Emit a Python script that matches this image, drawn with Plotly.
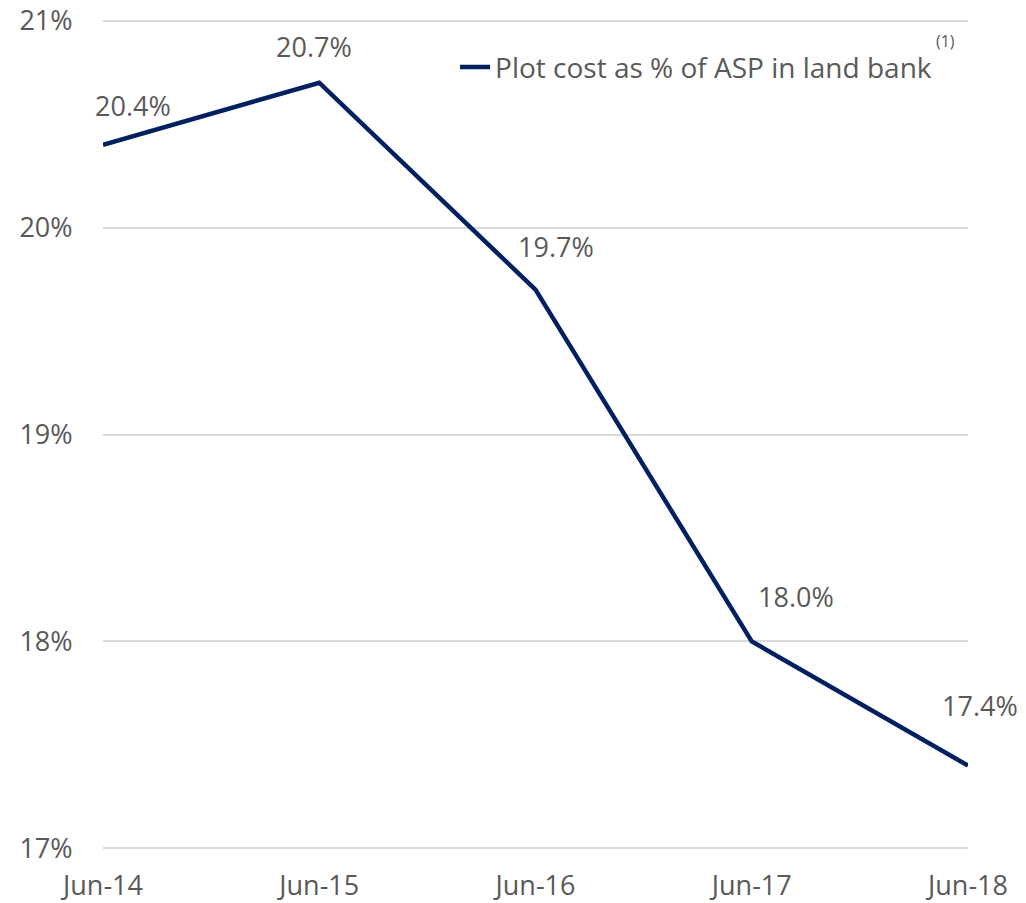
import plotly.graph_objects as go

# Plot cost as a share of average selling price, by year-end
periods = ["Jun-14", "Jun-15", "Jun-16", "Jun-17", "Jun-18"]
plot_cost_pct = [20.4, 20.7, 19.7, 18.0, 17.4]
y_ticks = [17, 18, 19, 20, 21]
y_tick_labels = ["17%", "18%", "19%", "20%", "21%"]

LINE_COLOR = "#002060"
TEXT_COLOR = "#595959"
FONT = "Open Sans"
FONT_SIZE = 27

# label offsets (pixels) relative to each point
label_dx = [30, -5, 20, 44, 12]
label_dy = [39, 36, 43, 45, 60]

fig = go.Figure()
fig.add_trace(go.Scatter(
    x=periods, y=plot_cost_pct, mode="lines",
    line=dict(color=LINE_COLOR, width=4.5),
    name="Plot cost as % of ASP in land bank",
))

for i, (p, v) in enumerate(zip(periods, plot_cost_pct)):
    fig.add_annotation(
        x=p, y=v, text=f"{v:.1f}%", showarrow=False,
        xshift=label_dx[i], yshift=label_dy[i],
        font=dict(family=FONT, size=FONT_SIZE, color=TEXT_COLOR),
    )

# footnote marker next to the legend entry
fig.add_annotation(
    xref="paper", yref="paper", x=0.974, y=0.973, text="(1)",
    xanchor="center", yanchor="middle",
    showarrow=False, font=dict(family=FONT, size=16, color=TEXT_COLOR),
)

fig.update_layout(
    width=1026, height=903,
    margin=dict(l=103, r=58, t=19, b=53),
    paper_bgcolor="white", plot_bgcolor="white",
    font=dict(family=FONT, size=FONT_SIZE, color=TEXT_COLOR),
    showlegend=True,
    legend=dict(
        x=0.407, y=0.942, xanchor="left", yanchor="middle",
        bgcolor="rgba(0,0,0,0)",
        font=dict(family=FONT, size=28, color=TEXT_COLOR),
    ),
    xaxis=dict(
        type="category", range=[0, 4], showgrid=False, zeroline=False,
        showline=False, ticks="outside", ticklen=12, tickcolor="rgba(0,0,0,0)",
        tickfont=dict(family=FONT, size=FONT_SIZE, color=TEXT_COLOR),
        automargin=False, ticklabeloverflow="allow",
    ),
    yaxis=dict(
        range=[16.992, 21.008], tickvals=y_ticks, ticktext=y_tick_labels,
        showgrid=True, gridcolor="#D9D9D9", gridwidth=1.5, zeroline=False,
        showline=False, ticks="outside", ticklen=24, tickcolor="rgba(0,0,0,0)",
        tickfont=dict(family=FONT, size=FONT_SIZE, color=TEXT_COLOR),
        automargin=False, ticklabeloverflow="allow",
    ),
)

fig.write_html("out.html")
